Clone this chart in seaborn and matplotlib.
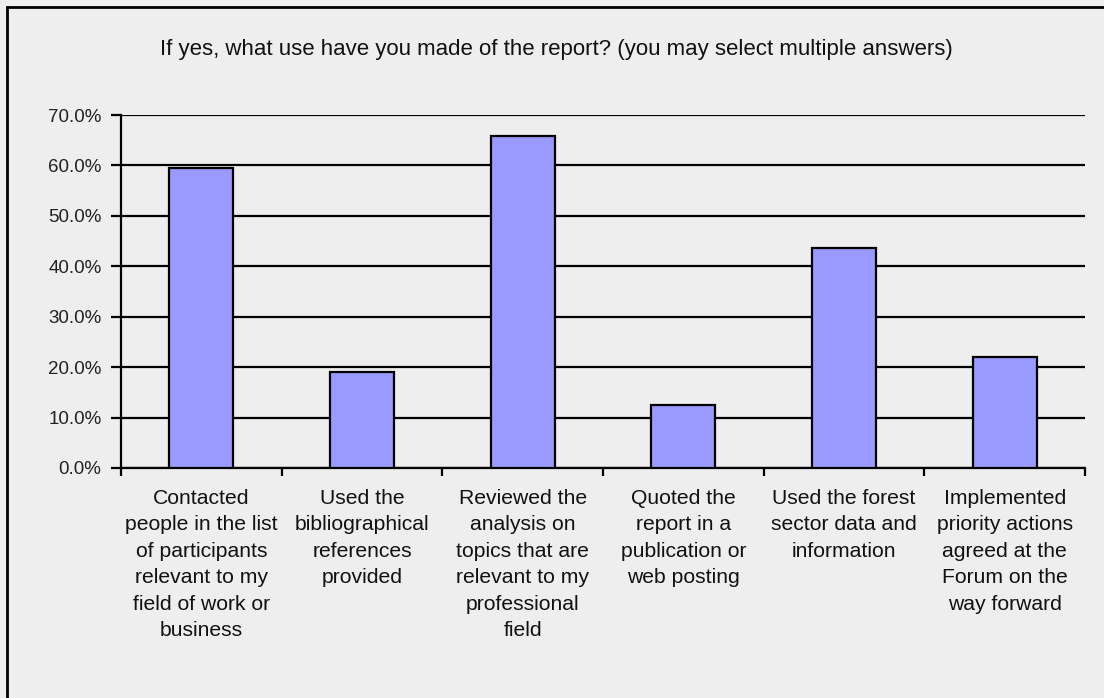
import numpy as np
import pandas as pd
import matplotlib
matplotlib.use('Agg')
import matplotlib.pyplot as plt
import seaborn as sns
from matplotlib.patches import Rectangle
from matplotlib.ticker import FuncFormatter, FixedLocator

# ------------------------------------------------------------
# Data
# ------------------------------------------------------------
categories = [
    "Contacted\npeople in the list\nof participants\nrelevant to my\nfield of work or\nbusiness",
    "Used the\nbibliographical\nreferences\nprovided",
    "Reviewed the\nanalysis on\ntopics that are\nrelevant to my\nprofessional\nfield",
    "Quoted the\nreport in a\npublication or\nweb posting",
    "Used the forest\nsector data and\ninformation",
    "Implemented\npriority actions\nagreed at the\nForum on the\nway forward",
]
shares = [0.595, 0.190, 0.659, 0.124, 0.437, 0.221]
y_ticks = [0.0, 0.1, 0.2, 0.3, 0.4, 0.5, 0.6, 0.7]
title = "If yes, what use have you made of the report? (you may select multiple answers)"

df = pd.DataFrame({'use': categories, 'share': shares})

sns.set_theme(style='white')
plt.rcParams['font.family'] = ['Liberation Sans', 'DejaVu Sans']

bg = '#EEEEEE'
fig = plt.figure(figsize=(11.04, 6.98), dpi=100, facecolor=bg)
ax = fig.add_axes([121 / 1104, 1 - 468 / 698, (1085 - 121) / 1104, (468 - 115) / 698])
ax.set_facecolor(bg)

# outer frame (runs off the right/bottom edge in the reference)
fig.patches.append(Rectangle((7 / 1104, -0.1), 1.2, 1 - 7 / 698 + 0.1,
                             transform=fig.transFigure, fill=False,
                             edgecolor='black', linewidth=2.0, zorder=0))

sns.barplot(data=df, x='use', y='share', color='#9999FF', width=0.4,
            edgecolor='black', linewidth=1.6, saturation=1, ax=ax, zorder=3)

ax.set_ylim(0, 0.7)
ax.set_xlim(-0.5, len(categories) - 0.5)
ax.yaxis.set_major_locator(FixedLocator(y_ticks))
ax.yaxis.set_major_formatter(FuncFormatter(lambda v, p: f"{v * 100:.1f}%"))
ax.grid(axis='y', color='black', linewidth=1.6, zorder=0)
ax.set_axisbelow(True)

for s in ['top', 'right']:
    ax.spines[s].set_visible(False)
for s in ['left', 'bottom']:
    ax.spines[s].set_color('black')
    ax.spines[s].set_linewidth(1.6)

ax.tick_params(axis='y', which='major', left=True, length=7, width=1.6,
               color='black', labelsize=13.5, pad=7, labelcolor='#222222')
# tick marks at category boundaries, labels at centres
ax.set_xticks(np.arange(-0.5, len(categories)), minor=True)
ax.tick_params(axis='x', which='minor', bottom=True, length=6, width=1.6, color='black')
ax.tick_params(axis='x', which='major', bottom=False, length=0, pad=15,
               labelsize=15.2, labelcolor='#111111')
ax.set_xticks(range(len(categories)))
ax.set_xticklabels(categories, linespacing=1.5, va='top', ha='center')

ax.set_xlabel('')
ax.set_ylabel('')

fig.text(0.504, 1 - 50 / 698, title, ha='center', va='center',
         fontsize=16, color='#111111')

fig.savefig('out.png', dpi=100, facecolor=bg)
